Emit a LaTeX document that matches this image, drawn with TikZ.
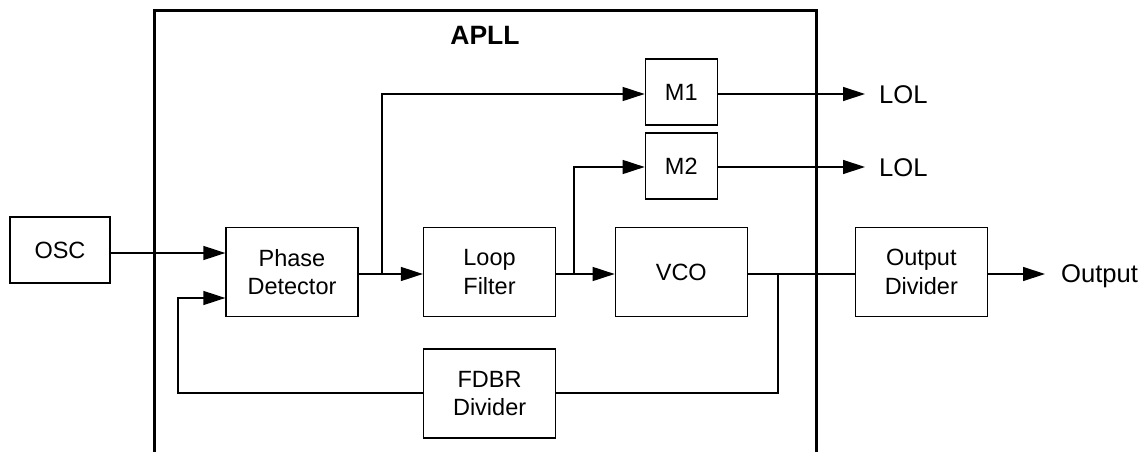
\documentclass[tikz,border=0pt]{standalone}
\usepackage{fontspec}
\setmainfont{Liberation Sans}
\usetikzlibrary{arrows.meta}
\begin{document}
\begin{tikzpicture}[x=1pt,y=-1pt,
  blk/.style={draw=black,line width=1.3pt,inner sep=0pt,minimum width=132pt,minimum height=89pt,align=center,font=\fontsize{23.5}{28.7}\selectfont},
  mblk/.style={blk,minimum width=72pt,minimum height=66pt},
  wire/.style={line width=1.3pt},
  arr/.style={wire,-{Triangle[length=22pt,width=14pt]}},
  lbl/.style={inner sep=0pt,anchor=base west,font=\fontsize{25.6}{30}\selectfont},
  frame/.style={line width=3pt}
]
\useasboundingbox (0,0) rectangle (1147,452);
% APLL frame
\coordinate (fbl) at (154,452);
\coordinate (ftl) at (154,11);
\coordinate (ftr) at (816,11);
\coordinate (fbr) at (816,452);
\draw[frame] (fbl) -- (ftl) -- (ftr) -- (fbr);
\node[inner sep=0pt,font=\bfseries\fontsize{26.5}{30}\selectfont] (apll) at (485,35) {APLL};
% blocks
\node[blk,minimum width=100pt,minimum height=66pt] (osc) at (60,250) {OSC};
\node[blk] (pd) at (292,272) {Phase\\Detector};
\node[blk] (lf) at (489.5,272) {Loop\\Filter};
\node[blk] (vco) at (681.3,272) {VCO};
\node[blk] (od) at (921.3,272) {Output\\Divider};
\node[blk] (fd) at (489.6,393.5) {FDBR\\Divider};
\node[mblk] (m1) at (681.3,92) {M1};
\node[mblk] (m2) at (681.3,166) {M2};
% outer labels
\node[lbl] (lol1) at (879,103) {LOL};
\node[lbl] (lol2) at (879,176) {LOL};
\node[lbl] (out) at (1061,282) {Output};
% helper coordinates
\coordinate (yosc) at (0,253);
\coordinate (b1) at (382,274);
\coordinate (b2) at (574,274);
\coordinate (j) at (778,274);
\coordinate (fl) at (178,298);
\coordinate (fy) at (0,393);
\coordinate (y1) at (0,94);
\coordinate (y2) at (0,167);
% connectors
\draw[arr] (osc.east |- yosc) -- (pd.west |- yosc);
\draw[arr] (pd.east |- b1) -- (lf.west |- b1);
\draw[arr] (b1) |- (m1.west |- y1);
\draw[arr] (lf.east |- b2) -- (vco.west |- b2);
\draw[arr] (b2) |- (m2.west |- y2);
\draw[wire] (vco.east |- j) -- (od.west |- j);
\draw[wire] (fd.east |- fy) -| (j);
\draw[arr] (fd.west |- fy) -| (fl) -- (pd.west |- fl);
\draw[arr] (m1.east |- y1) -- ([xshift=-14pt]lol1.west |- y1);
\draw[arr] (m2.east |- y2) -- ([xshift=-14pt]lol2.west |- y2);
\draw[arr] (od.east |- j) -- ([xshift=-16pt]out.west |- j);
\end{tikzpicture}
\end{document}
